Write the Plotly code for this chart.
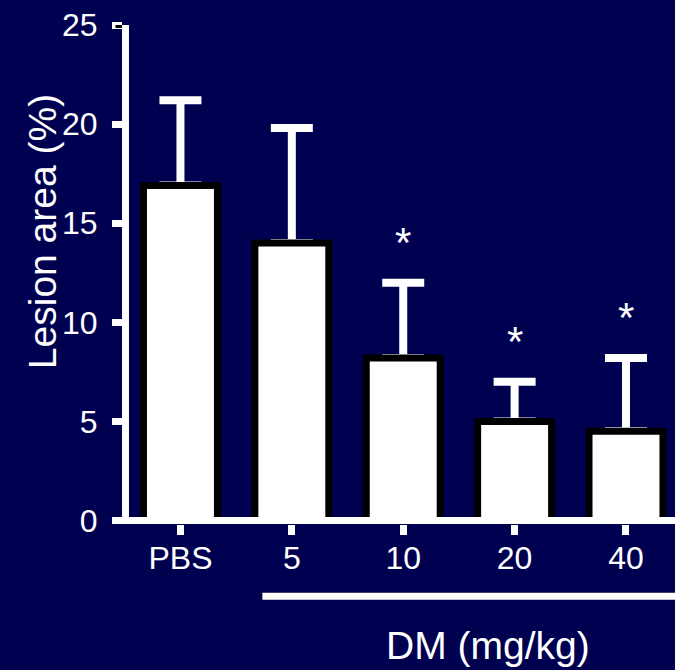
import plotly.graph_objects as go

categories = ["PBS", "5", "10", "20", "40"]
lesion_mean = [16.9, 14.0, 8.2, 5.0, 4.5]
lesion_sd = [4.3, 5.8, 3.8, 2.0, 3.7]
significance = ["", "", "*", "*", "*"]
y_ticks = [0, 5, 10, 15, 20, 25]

BG = "rgb(0,0,80)"
FONT = "Liberation Sans, Arial, sans-serif"

fig = go.Figure()

# error bars (drawn first so the bar outlines sit on top of the stems)
fig.add_trace(go.Bar(
    x=categories, y=lesion_mean, width=0.664,
    marker=dict(color="rgba(0,0,0,0)", line=dict(width=0)),
    error_y=dict(type="data", array=lesion_sd, arrayminus=[0] * len(lesion_sd),
                 symmetric=False, color="white", thickness=8, width=21),
    hoverinfo="skip", showlegend=False,
))

fig.add_trace(go.Bar(
    x=categories, y=lesion_mean, width=0.664,
    marker=dict(color="white", line=dict(color="black", width=7)),
    showlegend=False,
))

for i, (m, s, star) in enumerate(zip(lesion_mean, lesion_sd, significance)):
    if star:
        fig.add_annotation(xref="x", yref="y", x=i, y=m + s, text=star, showarrow=False,
                           yshift=40, font=dict(family=FONT, size=42, color="white"))

# y-axis title
fig.add_annotation(xref="paper", yref="paper", x=(42 - 128.5) / 546.5, y=0.586,
                   text="Lesion area (%)", textangle=-90, showarrow=False,
                   xanchor="center", yanchor="middle",
                   font=dict(family=FONT, size=39, color="white"))

# group label
fig.add_annotation(xref="paper", yref="paper", x=0.658, y=(524.5 - 646) / 500,
                   text="DM (mg/kg)", showarrow=False,
                   xanchor="center", yanchor="middle",
                   font=dict(family=FONT, size=39, color="white"))

# x-axis baseline at y = 0
fig.add_shape(type="line", xref="paper", yref="y", x0=(115 - 128.5) / 546.5, x1=1,
              y0=0, y1=0, line=dict(color="white", width=7), layer="above")
# the top tick (25) is dark in the original
fig.add_shape(type="line", xref="paper", yref="y", x0=(115 - 128.5) / 546.5,
              x1=(121.5 - 128.5) / 546.5, y0=y_ticks[-1], y1=y_ticks[-1],
              line=dict(color="black", width=6), layer="above")
# bracket under the DM doses
fig.add_shape(type="line", xref="paper", yref="paper", x0=(262 - 128.5) / 546.5, x1=1,
              y0=(524.5 - 597) / 500, y1=(524.5 - 597) / 500,
              line=dict(color="white", width=7), layer="above")

fig.update_layout(
    width=675, height=670,
    margin=dict(l=128.5, r=0, t=24.5, b=145.5, pad=0),
    paper_bgcolor=BG, plot_bgcolor=BG,
    barmode="overlay",
    font=dict(family=FONT, color="white"),
    xaxis=dict(
        type="category", range=[-0.462, 4.44],
        showline=False, showgrid=False, zeroline=False,
        ticks="outside", ticklen=10, tickwidth=7, tickcolor="white",
        tickfont=dict(family=FONT, size=32, color="white"),
        ticklabelstandoff=-4,
    ),
    yaxis=dict(
        range=[-0.176, 25], tickvals=y_ticks,
        showline=True, linecolor="white", linewidth=7,
        showgrid=False, zeroline=False,
        ticks="outside", ticklen=10, tickwidth=7, tickcolor="white",
        tickfont=dict(family=FONT, size=32, color="white"),
        ticklabelstandoff=8,
    ),
)

fig.write_html(
    "out.html",
    config={"displayModeBar": False},
    post_script="document.body.style.margin='0';document.body.style.overflow='hidden';"
                "document.body.style.background='" + BG + "';",
)
